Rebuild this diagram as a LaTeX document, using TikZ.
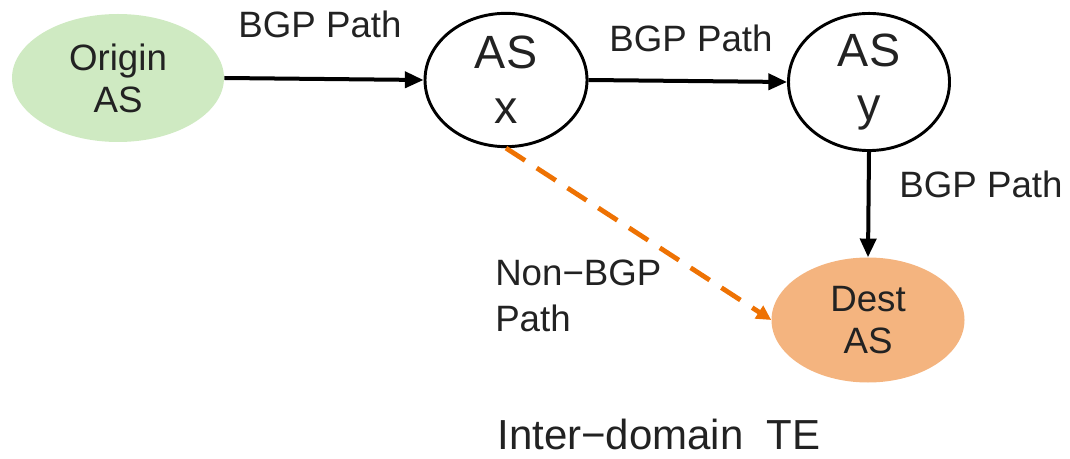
\documentclass[tikz,border=0pt]{standalone}
\usepackage{fontspec}
\setmainfont{Liberation Sans}
\usetikzlibrary{shapes.geometric,arrows.meta}
\definecolor{txt}{HTML}{222222}
\definecolor{greenfill}{HTML}{CFEAC2}
\definecolor{destfill}{HTML}{F4B47F}
\definecolor{orangeline}{HTML}{EE7203}
\begin{document}
\begin{tikzpicture}[x=0.75pt,y=-0.75pt,
  asnode/.style={ellipse,inner sep=0pt,align=center,text=txt},
  lbl/.style={inner sep=0pt,text=txt,font=\fontsize{27.5}{33}\selectfont},
  bgp/.style={line width=3pt,-{Triangle[length=14pt,width=12pt]}},
  nonbgp/.style={line width=3.6pt,orangeline,dash pattern=on 17pt off 10.5pt,-{Triangle[length=11pt,width=11pt]}}]
\useasboundingbox (0,0) rectangle (1070,459);
\node[asnode,fill=greenfill,minimum width=159pt,minimum height=96pt,
  font=\fontsize{27.5}{31.5}\selectfont] (orig) at (118,78) {Origin\\AS};
\node[asnode,draw=black,line width=2.2pt,minimum width=121.5pt,minimum height=100pt,
  font=\fontsize{35}{41}\selectfont] (asx) at (506,80) {AS\\x};
\node[asnode,draw=black,line width=2.2pt,minimum width=120.75pt,minimum height=97.5pt,
  font=\fontsize{35}{41}\selectfont] (asy) at (869,82) {AS\\y};
\node[asnode,fill=destfill,minimum width=144.75pt,minimum height=93.75pt,
  font=\fontsize{27.5}{31.5}\selectfont] (dest) at (868,320) {Dest\\AS};
\draw[bgp] (orig.east) -- (asx.west);
\draw[bgp] (asx.east) -- (asy.west);
\draw[bgp] (asy.south) -- (dest.north);
\draw[nonbgp] (asx.south) -- (dest.west);
\node[lbl] (l1) at (320,24) {BGP Path};
\node[lbl] (l2) at (691,38) {BGP Path};
\node[lbl] (l3) at (981,184) {BGP Path};
\node[lbl,align=left,anchor=west,font=\fontsize{27.5}{34.5}\selectfont] (l4) at (495,296) {Non−BGP\\Path};
\node[lbl,anchor=base,font=\fontsize{31.5}{36}\selectfont] (title) at (659,449) {Inter−domain\ \ TE};
\end{tikzpicture}
\end{document}
